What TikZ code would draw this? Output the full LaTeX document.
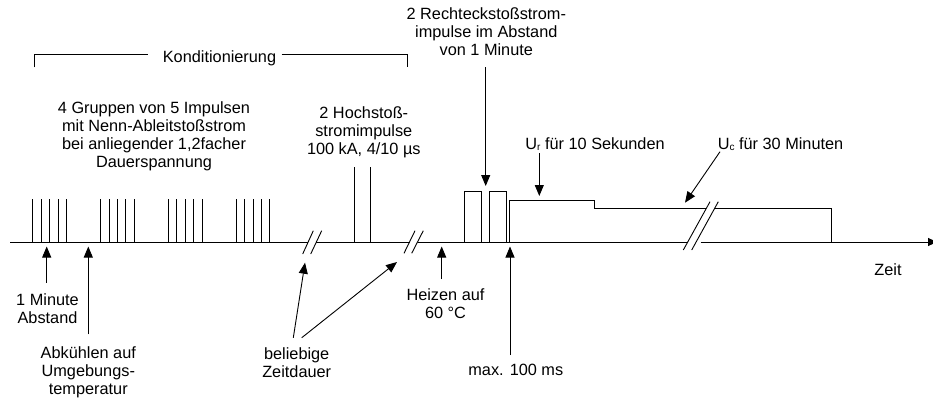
\documentclass[tikz,border=0pt]{standalone}
\usepackage{fontspec}
\setmainfont{Liberation Sans}
\usetikzlibrary{arrows.meta}
\begin{document}
\begin{tikzpicture}[x=1pt,y=-1pt,
  line width=0.9pt,
  lbl/.style={font=\fontsize{16.3}{18}\selectfont, inner sep=0pt, align=center, anchor=base},
  lblw/.style={font=\fontsize{16.3}{18}\selectfont, inner sep=0pt, anchor=base west},
  arr/.style={-{Triangle[length=11pt,width=9pt]}},
  pulse/.style={line width=0.9pt}]
\useasboundingbox (0,0) rectangle (933,399);
% axis with breaks
\draw (10,242) -- (308,242);
\draw (316,242) -- (409.5,242);
\draw (417.5,242) -- (686.7,242);
\draw[-{Triangle[length=9pt,width=8pt]}] (700.7,242) -- (937,242);
% break marks
\draw (302.7,254) -- (313.3,230.7) (310.7,254) -- (321.7,230.7);
\draw (404,253.3) -- (415,230.7) (411.7,253.3) -- (423.3,230.7);
\draw (683.3,250) -- (710,201.7) (691.7,250) -- (718.3,201.7);
% conditioning bracket
\node[lbl] (kond) at (219.5,62.7) {Konditionierung};
\draw (34,67.3) -- (34,54) -- (148.3,54);
\draw (281.7,54) -- (407.3,54) -- (407.3,67.3);
% pulse groups
\foreach \g in {32.7,100.5,168.3,236.1}{
  \foreach \i in {0,1,2,3,4}{
    \draw[pulse] (\g+8.45*\i,242) -- (\g+8.45*\i,198.5);
  }
}
% high current pulses
\draw (354.5,242) -- (354.5,166.7);
\draw (370.8,242) -- (370.8,166.7);
% rectangular pulses
\draw (464.3,242) -- (464.3,191.5) -- (481.3,191.5) -- (481.3,242);
\draw (489.3,242) -- (489.3,191.5) -- (506.7,191.5) -- (506.7,242);
% Ur / Uc level
\draw (509.8,242) -- (509.8,200) -- (594.3,200) -- (594.3,208.3) -- (706,208.3);
\draw (715,208.3) -- (831.7,208.3) -- (831.7,242);
% texts (multi-line nodes: base = last line)
\node[lbl] (grp) at (154,167.5) {4 Gruppen von 5 Impulsen\\mit Nenn-Ableitstoßstrom\\bei anliegender 1,2facher\\Dauerspannung};
\node[lbl] (hoch) at (363.8,154) {2 Hochstoß-\\stromimpulse\\100 kA, 4/10 µs};
\node[lbl] (rech) at (486.3,55) {2 Rechteckstoßstrom-\\impulse im Abstand\\von 1 Minute};
\node[lblw] (ur) at (525,149.3) {U\raisebox{-1pt}{\fontsize{10}{10}\selectfont r} für 10 Sekunden};
\node[lblw] (uc) at (717.3,149.3) {U\raisebox{-1pt}{\fontsize{10}{10}\selectfont c} für 30 Minuten};
\node[lbl] (mina) at (47.5,323.5) {1 Minute\\Abstand};
\node[lbl] (abk) at (88.3,394) {Abkühlen auf\\Umgebungs-\\temperatur};
\node[lbl] (bel) at (296.7,377.7) {beliebige\\Zeitdauer};
\node[lbl] (heiz) at (445.5,318.3) {Heizen auf\\60 °C};
\node[lbl] (max) at (515.8,375) {max. 100 ms};
\node[lbl] (zeit) at (888,275) {Zeit};
% arrow tips
\coordinate (tr) at (485.7,186);
\coordinate (tur) at (539.3,196);
\coordinate (tuc) at (685,202.7);
\coordinate (tmin) at (46.7,246.5);
\coordinate (tabk) at (88.3,246.5);
\coordinate (tb1) at (305,262.7);
\coordinate (tb2) at (397,262);
\coordinate (theiz) at (441.7,246.5);
\coordinate (tmax) at (510,246.5);
% arrows
\draw[arr] (rech.south) ++(-0.6,11.7) -- (tr);
\draw[arr] (ur.base west) ++(14.3,3.7) -- (tur);
\draw[arr] (uc.base west) ++(2.7,2.4) -- (tuc);
\draw[arr] (mina.north) ++(-0.8,-10.3) -- (tmin);
\draw[arr] (abk.north) ++(0,-11.4) -- (tabk);
\draw[arr] (bel.north) ++(-3.4,-9.7) -- (tb1);
\draw[arr] (bel.north) ++(5,-9.7) -- (tb2);
\draw[arr] (heiz.north) ++(-3.8,-8.8) -- (theiz);
\draw[arr] (max.north) ++(-5.8,-8) -- (tmax);
\end{tikzpicture}
\end{document}
